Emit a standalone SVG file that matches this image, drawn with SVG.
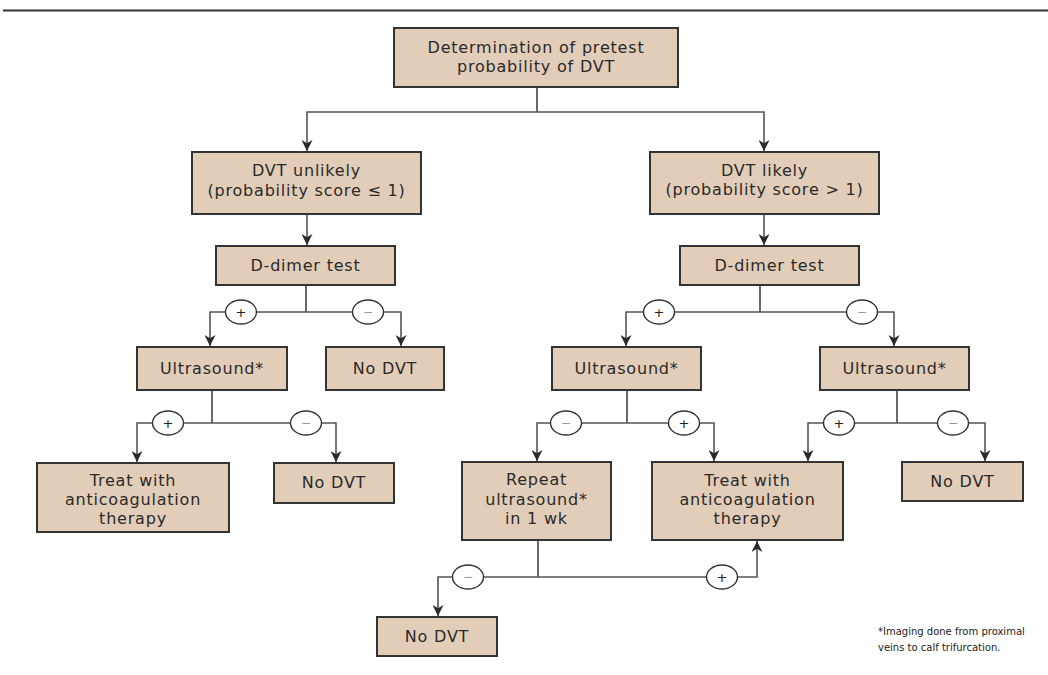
<svg xmlns="http://www.w3.org/2000/svg" width="1048" height="675" viewBox="0 0 1048 675">
  <defs>
    <marker id="arr" viewBox="0 0 10 10" refX="10" refY="5" markerWidth="11" markerHeight="11" markerUnits="userSpaceOnUse" orient="auto">
      <path d="M0,0 L10,5 L0,10 L3,5 z" fill="#2a2a2a"/>
    </marker>
    <style>
      .box { fill: #e2cdb9; stroke: #333; stroke-width: 2; }
      .t { font-family: "DejaVu Sans", "Liberation Sans", sans-serif; font-size: 16px; letter-spacing: 0.8px; fill: #2a2a2a; text-anchor: middle; }
      .ln { fill: none; stroke: #444; stroke-width: 1.6; }
      .ar { fill: none; stroke: #555; stroke-width: 1.6; marker-end: url(#arr); }
      .sg { fill: #fff; stroke: #333; stroke-width: 1.4; }
      .pl { font-family: "DejaVu Sans", "Liberation Sans", sans-serif; font-size: 13px; fill: #222; text-anchor: middle; }
      .mi { font-family: "DejaVu Sans", "Liberation Sans", sans-serif; font-size: 12px; fill: #999; text-anchor: middle; }
      .fn { font-family: "DejaVu Sans", "Liberation Sans", sans-serif; font-size: 10px; fill: #222; }
    </style>
  </defs>
  <rect width="1048" height="675" fill="#fff"/>
  <line x1="3" y1="10.5" x2="1048" y2="10.5" stroke="#333" stroke-width="2"/>

  <g id="connectors">
    <path class="ln" d="M537,87 V112"/>
    <path class="ar" d="M537,112 H307 V151"/>
    <path class="ar" d="M537,112 H764 V151"/>
    <path class="ar" d="M307,214 V245"/>
    <path class="ar" d="M764,214 V245"/>

    <path class="ln" d="M306,285 V312"/>
    <path class="ar" d="M306,312 H210 V346"/>
    <path class="ar" d="M306,312 H401 V346"/>

    <path class="ln" d="M760,285 V312"/>
    <path class="ar" d="M760,312 H626 V346"/>
    <path class="ar" d="M760,312 H894 V346"/>

    <path class="ln" d="M212,390 V423"/>
    <path class="ar" d="M212,423 H137 V462"/>
    <path class="ar" d="M212,423 H336 V462"/>

    <path class="ln" d="M627,390 V423"/>
    <path class="ar" d="M627,423 H537 V461"/>
    <path class="ar" d="M627,423 H714 V461"/>

    <path class="ln" d="M897,390 V423"/>
    <path class="ar" d="M897,423 H808 V461"/>
    <path class="ar" d="M897,423 H985 V461"/>

    <path class="ln" d="M538,540 V577"/>
    <path class="ar" d="M538,577 H438 V616"/>
    <path class="ar" d="M538,577 H757 V541"/>

    <g id="signs">
      <ellipse class="sg" cx="241" cy="312" rx="15.5" ry="12"/><text class="pl" x="241" y="316.5">+</text>
      <ellipse class="sg" cx="368" cy="312" rx="15.5" ry="12"/><text class="mi" x="368" y="316">−</text>
      <ellipse class="sg" cx="659" cy="312" rx="15.5" ry="12"/><text class="pl" x="659" y="316.5">+</text>
      <ellipse class="sg" cx="862" cy="312" rx="15.5" ry="12"/><text class="mi" x="862" y="316">−</text>
      <ellipse class="sg" cx="168" cy="423" rx="15.5" ry="12"/><text class="pl" x="168" y="427.5">+</text>
      <ellipse class="sg" cx="306" cy="423" rx="15.5" ry="12"/><text class="mi" x="306" y="427">−</text>
      <ellipse class="sg" cx="566" cy="423" rx="15.5" ry="12"/><text class="mi" x="566" y="427">−</text>
      <ellipse class="sg" cx="684" cy="423" rx="15.5" ry="12"/><text class="pl" x="684" y="427.5">+</text>
      <ellipse class="sg" cx="839" cy="423" rx="15.5" ry="12"/><text class="pl" x="839" y="427.5">+</text>
      <ellipse class="sg" cx="953" cy="423" rx="15.5" ry="12"/><text class="mi" x="953" y="427">−</text>
      <ellipse class="sg" cx="468" cy="577" rx="15.5" ry="12"/><text class="mi" x="468" y="581">−</text>
      <ellipse class="sg" cx="722" cy="577" rx="15.5" ry="12"/><text class="pl" x="722" y="581.5">+</text>
    </g>
  </g>

  <g id="n-top">
    <rect class="box" x="394" y="28" width="284" height="59"/>
    <text class="t" x="536" y="52.5">Determination of pretest</text>
    <text class="t" x="536" y="71.5">probability of DVT</text>
  </g>
  <g id="n-unlikely">
    <rect class="box" x="192" y="152" width="229" height="62"/>
    <text class="t" x="306.5" y="175.5">DVT unlikely</text>
    <text class="t" x="306.5" y="195.5">(probability score ≤ 1)</text>
  </g>
  <g id="n-likely">
    <rect class="box" x="650" y="152" width="229" height="62"/>
    <text class="t" x="764.5" y="175.5">DVT likely</text>
    <text class="t" x="764.5" y="194.5">(probability score &gt; 1)</text>
  </g>
  <g id="n-ddimer-l">
    <rect class="box" x="216" y="246" width="179" height="39"/>
    <text class="t" x="305.5" y="270.5">D-dimer test</text>
  </g>
  <g id="n-ddimer-r">
    <rect class="box" x="680" y="246" width="179" height="39"/>
    <text class="t" x="769.5" y="270.5">D-dimer test</text>
  </g>
  <g id="n-us-l">
    <rect class="box" x="137" y="347" width="150" height="43"/>
    <text class="t" x="212" y="373.5">Ultrasound*</text>
  </g>
  <g id="n-nodvt-1">
    <rect class="box" x="326" y="347" width="118" height="43"/>
    <text class="t" x="385" y="373.5">No DVT</text>
  </g>
  <g id="n-us-m">
    <rect class="box" x="552" y="347" width="149" height="43"/>
    <text class="t" x="626.5" y="373.5">Ultrasound*</text>
  </g>
  <g id="n-us-r">
    <rect class="box" x="820" y="347" width="149" height="43"/>
    <text class="t" x="894.5" y="373.5">Ultrasound*</text>
  </g>
  <g id="n-treat-l">
    <rect class="box" x="37" y="463" width="192" height="69"/>
    <text class="t" x="133" y="486">Treat with</text>
    <text class="t" x="133" y="505">anticoagulation</text>
    <text class="t" x="133" y="524">therapy</text>
  </g>
  <g id="n-nodvt-2">
    <rect class="box" x="274" y="463" width="120" height="40"/>
    <text class="t" x="334" y="487.5">No DVT</text>
  </g>
  <g id="n-repeat">
    <rect class="box" x="462" y="462" width="149" height="78"/>
    <text class="t" x="536.5" y="484.5">Repeat</text>
    <text class="t" x="536.5" y="504.5">ultrasound*</text>
    <text class="t" x="536.5" y="523.5">in 1 wk</text>
  </g>
  <g id="n-treat-m">
    <rect class="box" x="652" y="462" width="191" height="78"/>
    <text class="t" x="747.5" y="485.5">Treat with</text>
    <text class="t" x="747.5" y="504.5">anticoagulation</text>
    <text class="t" x="747.5" y="524">therapy</text>
  </g>
  <g id="n-nodvt-3">
    <rect class="box" x="902" y="462" width="121" height="39"/>
    <text class="t" x="962.5" y="486.5">No DVT</text>
  </g>
  <g id="n-nodvt-4">
    <rect class="box" x="377" y="617" width="120" height="39"/>
    <text class="t" x="437" y="641.5">No DVT</text>
  </g>

  <g id="footnote">
    <text class="fn" x="878" y="635">*Imaging done from proximal</text>
    <text class="fn" x="878" y="651">veins to calf trifurcation.</text>
  </g>
</svg>
